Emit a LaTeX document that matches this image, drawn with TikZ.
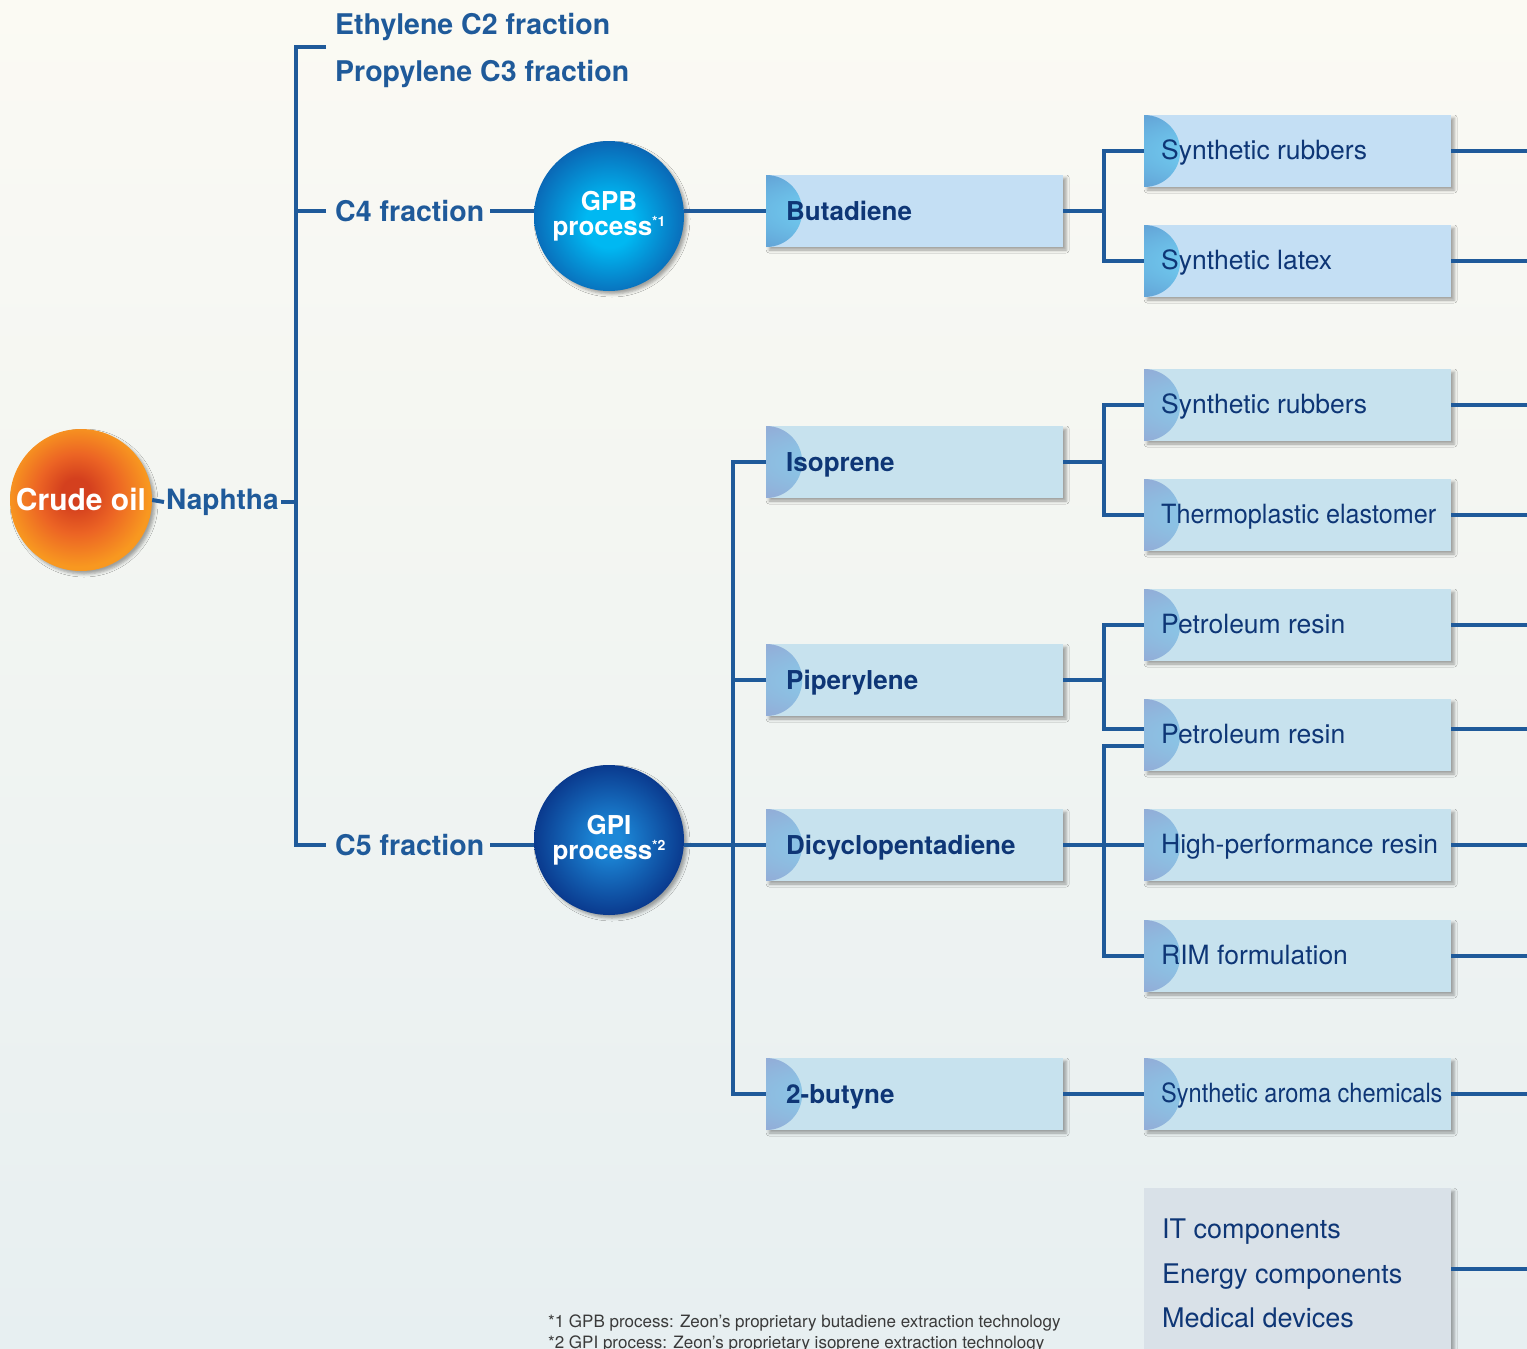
\documentclass[tikz,border=0pt]{standalone}
\usepackage{fontspec}
\usepackage{graphicx}
\setmainfont{TeX Gyre Heros}
\usetikzlibrary{shadows,shadows.blur}

\definecolor{lineblue}{RGB}{31,90,154}
\definecolor{navy}{RGB}{14,54,118}
\definecolor{boxB}{RGB}{196,223,244}
\definecolor{boxI}{RGB}{199,226,238}
\definecolor{discBin}{RGB}{114,210,244}
\definecolor{discBout}{RGB}{100,166,216}
\definecolor{discIin}{RGB}{136,204,234}
\definecolor{discIout}{RGB}{146,174,216}
\definecolor{appbox}{RGB}{217,225,232}
\definecolor{bgtop}{RGB}{251,250,243}
\definecolor{bgbot}{RGB}{231,239,241}
\definecolor{crudeIn}{RGB}{212,64,30}
\definecolor{crudeMid}{RGB}{236,100,36}
\definecolor{crudeOut}{RGB}{248,152,32}
\definecolor{gpbIn}{RGB}{0,184,242}
\definecolor{gpbOut}{RGB}{10,104,182}
\definecolor{gpiIn}{RGB}{28,136,216}
\definecolor{gpiOut}{RGB}{10,58,142}
\definecolor{notegray}{RGB}{58,58,58}

% radial fills: light core fading to a darker rim
\pgfdeclareradialshading{discBshade}{\pgfpoint{0bp}{0bp}}{color(0bp)=(discBin); color(14bp)=(discBin); color(34bp)=(discBout); color(50bp)=(discBout)}
\pgfdeclareradialshading{discIshade}{\pgfpoint{0bp}{0bp}}{color(0bp)=(discIin); color(14bp)=(discIin); color(34bp)=(discIout); color(50bp)=(discIout)}
\pgfdeclareradialshading{crudeshade}{\pgfpoint{-2bp}{3bp}}{color(0bp)=(crudeIn); color(5bp)=(crudeIn); color(14bp)=(crudeMid); color(25bp)=(crudeOut); color(50bp)=(crudeOut)}
\pgfdeclareradialshading{gpbshade}{\pgfpoint{0bp}{-3bp}}{color(0bp)=(gpbIn); color(8bp)=(gpbIn); color(26bp)=(gpbOut); color(50bp)=(gpbOut)}
\pgfdeclareradialshading{gpishade}{\pgfpoint{0bp}{0bp}}{color(0bp)=(gpiIn); color(4bp)=(gpiIn); color(25bp)=(gpiOut); color(50bp)=(gpiOut)}

% left-aligned text inside the fixed-width product boxes
\newcommand{\midtxt}[1]{\makebox[297pt][l]{\hspace{20pt}#1}}
\newcommand{\rtxt}[1]{\makebox[307pt][l]{\hspace{17pt}#1}}

\tikzset{
  conn/.style={draw=lineblue, line width=4pt},
  flabel/.style={font=\bfseries\fontsize{28.5}{30}\selectfont, text=lineblue,
    inner xsep=6pt, inner ysep=0pt, anchor=west},
  softshadow/.style={blur shadow={shadow xshift=3pt, shadow yshift=-3pt,
    shadow blur radius=3pt, shadow opacity=35}},
  prod/.style n args={2}{rectangle, fill=#1, inner sep=0pt, minimum height=72pt,
    text=navy, softshadow,
    path picture={\shade[shading=#2]
      (path picture bounding box.north west)
      arc[start angle=90, end angle=-90, radius=36pt] -- cycle;}},
  butbox/.style={prod={boxB}{discBshade}, minimum width=297pt,
    font=\bfseries\fontsize{26}{30}\selectfont, text height=22pt, text depth=3pt},
  midbox/.style={prod={boxI}{discIshade}, minimum width=297pt,
    font=\bfseries\fontsize{26}{30}\selectfont, text height=22pt, text depth=3pt},
  endboxB/.style={prod={boxB}{discBshade}, minimum width=307pt,
    font=\fontsize{26.5}{30}\selectfont, text height=21pt, text depth=4pt},
  endboxI/.style={prod={boxI}{discIshade}, minimum width=307pt,
    font=\fontsize{26.5}{30}\selectfont, text height=21pt, text depth=4pt},
  ball/.style={circle, inner sep=0pt, minimum size=#1, text=white, align=center, softshadow},
  note/.style={font=\fontsize{17}{21}\selectfont, text=notegray, inner sep=0pt, anchor=base west}
}

\begin{document}
\begin{tikzpicture}[x=1pt, y=-1pt]
  % page and background
  \useasboundingbox (0,0) rectangle (1527,1349);
  \clip (0,0) rectangle (1527,1349);
  \shade[top color=bgtop, bottom color=bgbot] (0,0) rectangle (1527,1349);
  \coordinate (edge) at (1527,0);

  % source and first split
  \node[ball=142pt, shade, shading=crudeshade,
        font=\bfseries\fontsize{30}{32}\selectfont] (crude) at (81,500) {Crude oil};
  \node[font=\bfseries\fontsize{28}{30}\selectfont, text=lineblue, inner xsep=2pt,
        inner ysep=0pt, anchor=west] (naphtha) at (164,502) {Naphtha};

  \node[flabel] (c2) at (329,27) {Ethylene C2 fraction};
  \node[flabel] (c3) at (329,74) {Propylene C3 fraction};
  \node[flabel] (c4) at (329,211) {C4 fraction};
  \node[flabel] (c5) at (329,845) {C5 fraction};

  % extraction processes
  \node[ball=150pt, shade, shading=gpbshade,
        font=\bfseries\fontsize{26}{25}\selectfont] (gpb) at (609,216)
        {GPB\\process\raisebox{9pt}{\fontsize{14}{14}\selectfont *1}};
  \node[ball=150pt, shade, shading=gpishade,
        font=\bfseries\fontsize{26}{25}\selectfont] (gpi) at (609,840)
        {GPI\\process\raisebox{9pt}{\fontsize{14}{14}\selectfont *2}};

  % monomers
  \node[butbox, anchor=west] (but)  at (766,211)  {\midtxt{Butadiene}};
  \node[midbox, anchor=west] (iso)  at (766,462)  {\midtxt{Isoprene}};
  \node[midbox, anchor=west] (pip)  at (766,680)  {\midtxt{Piperylene}};
  \node[midbox, anchor=west] (dcp)  at (766,845)  {\midtxt{Dicyclopentadiene}};
  \node[midbox, anchor=west] (but2) at (766,1094) {\midtxt{2-butyne}};

  % derived products
  \node[endboxB, anchor=west] (sr1) at (1144,151) {\rtxt{Synthetic rubbers}};
  \node[endboxB, anchor=west] (sl)  at (1144,261) {\rtxt{Synthetic latex}};
  \node[endboxI, anchor=west] (sr2) at (1144,405) {\rtxt{Synthetic rubbers}};
  \node[endboxI, anchor=west] (tpe) at (1144,515) {\rtxt{\scalebox{0.95}[1]{Thermoplastic elastomer}}};
  \node[endboxI, anchor=west] (pr1) at (1144,625) {\rtxt{Petroleum resin}};
  \node[endboxI, anchor=west] (pr2) at (1144,735) {\rtxt{Petroleum resin}};
  \node[endboxI, anchor=west] (hpr) at (1144,845) {\rtxt{High-performance resin}};
  \node[endboxI, anchor=west] (rim) at (1144,956) {\rtxt{RIM formulation}};
  \node[endboxI, anchor=west] (sac) at (1144,1094) {\rtxt{\scalebox{0.89}[1]{Synthetic aroma chemicals}}};

  % applications
  \node[rectangle, fill=appbox, minimum width=307pt, minimum height=162pt,
        anchor=north west, softshadow] (apps) at (1144,1188) {};
  \node[anchor=north west, inner sep=0pt, align=left, text=navy,
        font=\fontsize{27}{44.5}\selectfont] (appstxt) at (1162,1219)
        {IT components\\Energy components\\Medical devices};

  % footnotes
  \node[note] (n1) at (548,1327) {*1 GPB process: Zeon's proprietary butadiene extraction technology};
  \node[note] (n2) at (548,1348) {*2 GPI process: Zeon's proprietary isoprene extraction technology};

  % junction points
  \coordinate (sp) at (296,502);
  \coordinate (stub) at (326,47);
  \coordinate (spine) at (733,845);
  \coordinate (j1) at ([xshift=41pt]but.east);
  \coordinate (j2) at ([xshift=41pt]iso.east);
  \coordinate (j3) at ([xshift=41pt]pip.east);
  \coordinate (j4) at ([xshift=41pt]dcp.east);

  % naphtha tree
  \draw[conn] (crude.east) -- (naphtha.west);
  \draw[conn] (naphtha.east) -- (sp);
  \draw[conn] (stub) -| (sp) |- ([xshift=-3pt]c5.west);
  \draw[conn] ([xshift=-3pt]c4.west) -- (c4.west -| sp);
  \draw[conn] (c4.east) -- (c4.east -| gpb.west);
  \draw[conn] (c5.east) -- (c5.east -| gpi.west);

  % C4 branch
  \draw[conn] (but.west -| gpb.east) -- (but.west);
  \draw[conn] (but.east) -- (j1);
  \draw[conn] (sr1.west) -| (j1) |- (sl.west);

  % C5 branch
  \draw[conn] (gpi.east |- dcp.west) -- (dcp.west);
  \draw[conn] (iso.west) -| (spine) |- (but2.west);
  \draw[conn] (pip.west) -- (pip.west -| spine);
  \draw[conn] (iso.east) -- (j2);
  \draw[conn] (sr2.west) -| (j2) |- (tpe.west);
  \draw[conn] (pip.east) -- (j3);
  \draw[conn] (pr1.west) -| (j3) |- ([yshift=6pt]pr2.west);
  \draw[conn] (dcp.east) -- (hpr.west);
  \draw[conn] ([yshift=-11pt]pr2.west) -| (j4) |- (rim.west);
  \draw[conn] (but2.east) -- (sac.west);

  % outgoing lines to the right edge
  \foreach \b in {sr1,sl,sr2,tpe,pr1,hpr,rim,sac,apps}
    \draw[conn] (\b.east) -- (\b.east -| edge);
  \draw[conn] ([yshift=6pt]pr2.east) -- ([yshift=6pt]pr2.east -| edge);
\end{tikzpicture}
\end{document}
